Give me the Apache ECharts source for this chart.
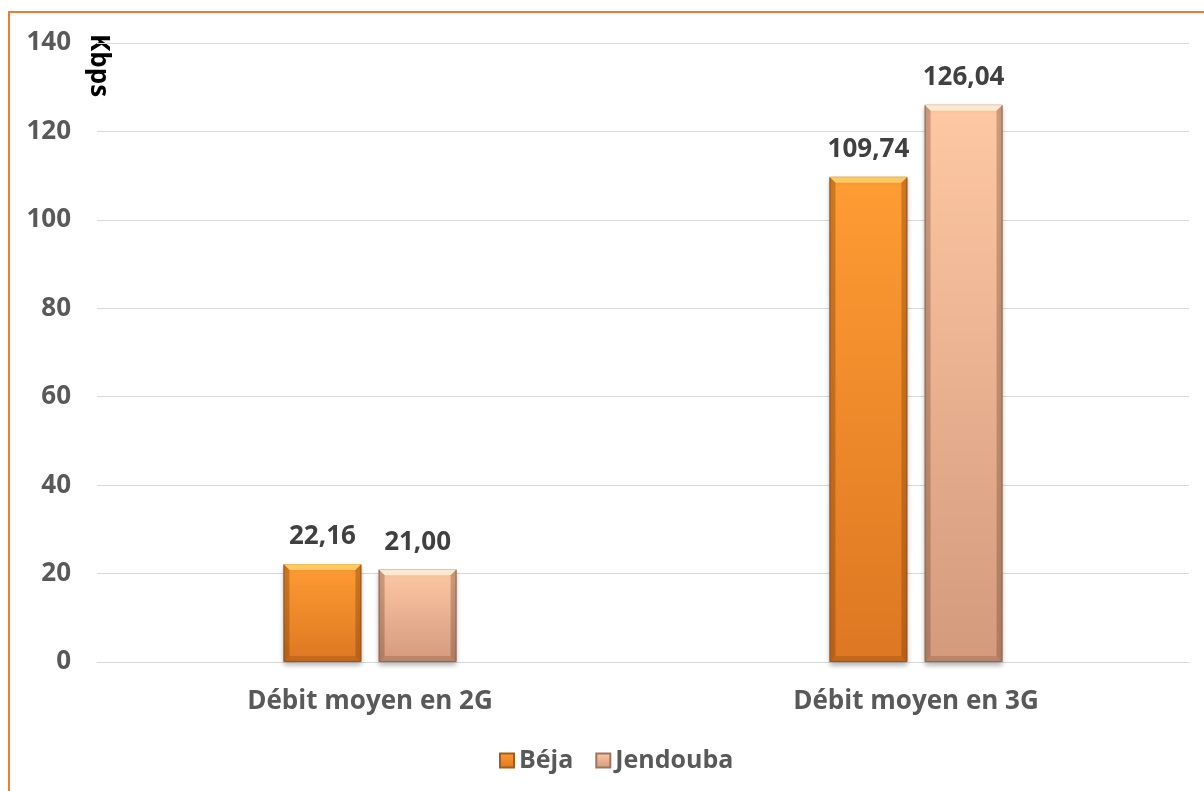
<!DOCTYPE html>
<html><head><meta charset="utf-8">
<script src="https://cdn.jsdelivr.net/npm/echarts@6/dist/echarts.min.js"></script>
<style>html,body{margin:0;padding:0;background:#fff;}#c{width:1204px;height:791px;}
#frame{position:absolute;left:8px;top:11px;width:1300px;height:900px;border:2px solid #ED7D31;box-sizing:border-box;pointer-events:none;}</style>
</head><body><div id="c"></div><div id="frame"></div>
<script>
var categories = ['Débit moyen en 2G', 'Débit moyen en 3G'];
var seriesNames = ['Béja', 'Jendouba'];
var beja = [22.16, 109.74];
var jendouba = [21.00, 126.04];
var yTicks = [0, 20, 40, 60, 80, 100, 120, 140];
var unitLabel = 'Kbps';

var FONT = 'Open Sans';
var BAR_W = 78, GAP = 0.22;
function grad(top, bottom){
  return {type:'linear',x:0,y:0,x2:0,y2:1,colorStops:[{offset:0,color:top},{offset:1,color:bottom}]};
}
var palettes = [
  {top:'#FF9C33', bottom:'#DD7722', bevelTop:'rgba(255,215,110,0.8)', side:'rgba(120,60,10,0.35)', bot:'rgba(120,60,10,0.25)', border:'#A85A18'},
  {top:'#FFC8A4', bottom:'#D39A7C', bevelTop:'rgba(255,240,215,0.85)', side:'rgba(100,60,40,0.30)', bot:'rgba(100,60,40,0.22)', border:'#9E7460'}
];
function bevelSeries(idx, data){
  var off = (idx === 0 ? -1 : 1) * (BAR_W * (1 + GAP)) / 2;
  var p = palettes[idx];
  return {type:'custom', silent:true, z:3, legendHoverLink:false,
    data:data.map(function(v,i){return [i,v];}),
    encode:{x:0,y:1},
    renderItem:function(params, api){
      var top = api.coord([api.value(0), api.value(1)]);
      var base = api.coord([api.value(0), 0]);
      var cx = top[0] + off;
      var x0 = cx - BAR_W/2, x1 = cx + BAR_W/2, y0 = top[1], yb = base[1];
      var b = 6;
      return {type:'group', children:[
        {type:'polygon', shape:{points:[[x0,y0],[x1,y0],[x1-b,y0+b],[x0+b,y0+b]]}, style:{fill:p.bevelTop}},
        {type:'polygon', shape:{points:[[x0,y0],[x0+b,y0+b],[x0+b,yb-b],[x0,yb]]}, style:{fill:p.side}},
        {type:'polygon', shape:{points:[[x1,y0],[x1-b,y0+b],[x1-b,yb-b],[x1,yb]]}, style:{fill:p.side}},
        {type:'polygon', shape:{points:[[x0,yb],[x0+b,yb-b],[x1-b,yb-b],[x1,yb]]}, style:{fill:p.bot}}
      ]};
    }};
}
function fmt(p){return p.value.toFixed(2).replace('.',',');}
var chart = echarts.init(document.getElementById('c'));
chart.setOption({
  animation:false,
  textStyle:{fontFamily:FONT},
  grid:{left:97,right:15,top:43,bottom:129,containLabel:false},
  legend:{bottom:13,left:494,itemWidth:14,itemHeight:14,itemGap:22,
    textStyle:{fontFamily:FONT,fontWeight:'bold',fontSize:25,color:'#595959'},
    data:seriesNames.map(function(n){return {name:n,icon:'rect'};})},
  xAxis:{type:'category',data:categories,
    axisLine:{lineStyle:{color:'#D9D9D9',width:1}},axisTick:{show:false},
    axisLabel:{fontFamily:FONT,fontWeight:'bold',fontSize:26,color:'#595959',margin:27}},
  yAxis:{type:'value',min:yTicks[0],max:yTicks[yTicks.length-1],interval:20,
    axisLine:{show:false},axisTick:{show:false},
    splitLine:{lineStyle:{color:'#D9D9D9',width:1}},
    axisLabel:{fontFamily:FONT,fontWeight:'bold',fontSize:26,color:'#595959',margin:26}},
  graphic:[{type:'text',left:85,top:34,rotation:-Math.PI/2,
    style:{text:unitLabel,fontFamily:FONT,fontWeight:'bold',fontSize:26,fill:'#000'}}],
  series:[
    {name:seriesNames[0],type:'bar',data:beja,barWidth:BAR_W,barGap:(GAP*100)+'%',
     itemStyle:{color:grad(palettes[0].top,palettes[0].bottom),borderColor:palettes[0].border,borderWidth:1,
       shadowColor:'rgba(0,0,0,0.28)',shadowBlur:5,shadowOffsetY:3},
     label:{show:true,position:'top',distance:14,fontFamily:FONT,fontWeight:'bold',fontSize:26,color:'#404040',formatter:fmt}},
    {name:seriesNames[1],type:'bar',data:jendouba,barWidth:BAR_W,
     itemStyle:{color:grad(palettes[1].top,palettes[1].bottom),borderColor:palettes[1].border,borderWidth:1,
       shadowColor:'rgba(0,0,0,0.28)',shadowBlur:5,shadowOffsetY:3},
     label:{show:true,position:'top',distance:14,fontFamily:FONT,fontWeight:'bold',fontSize:26,color:'#404040',formatter:fmt}},
    bevelSeries(0, beja),
    bevelSeries(1, jendouba)
  ]
});
</script></body></html>
